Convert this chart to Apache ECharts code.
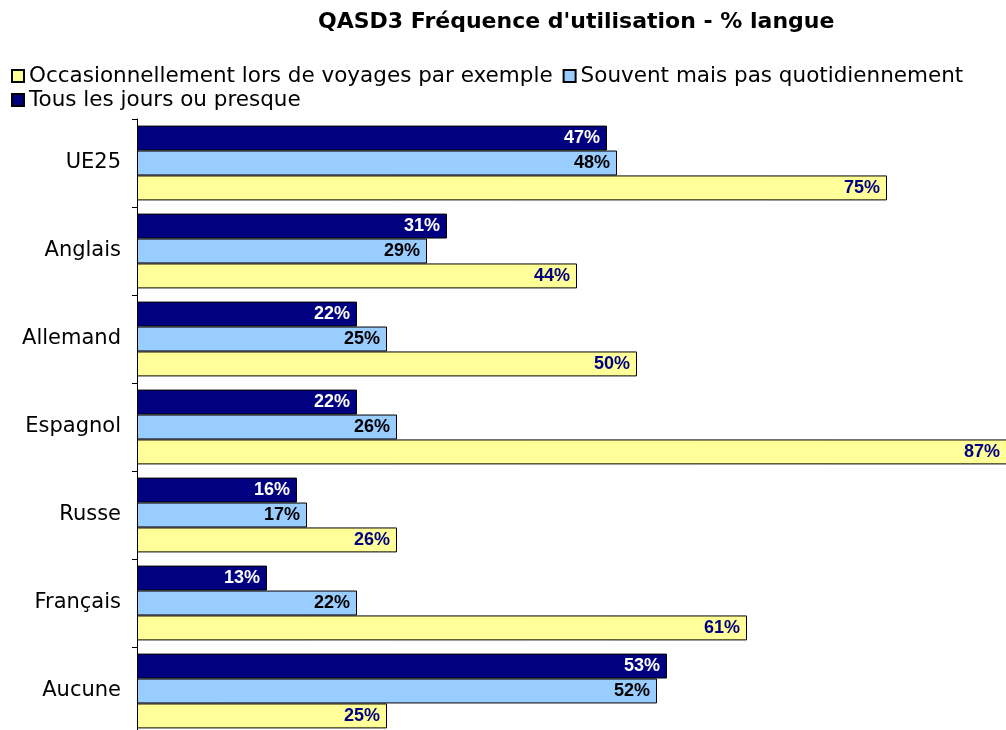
<!DOCTYPE html>
<html>
<head>
<meta charset="utf-8">
<script src="https://cdn.jsdelivr.net/npm/echarts@6/dist/echarts.min.js"></script>
<style>
  html, body { margin: 0; padding: 0; background: #fff; }
  #chart { width: 1006px; height: 730px; }
</style>
</head>
<body>
<div id="chart"></div>
<script>
// langues (de haut en bas)
const categories = ["UE25", "Anglais", "Allemand", "Espagnol", "Russe", "Français", "Aucune"];
// valeurs en %
const occasionnel = [75, 44, 50, 87, 26, 61, 25];
const souvent = [48, 29, 25, 26, 17, 22, 52];
const quotidien = [47, 31, 22, 22, 16, 13, 53];

const nomOcc = "Occasionnellement lors de voyages par exemple";
const nomSouvent = "Souvent mais pas quotidiennement";
const nomTous = "Tous les jours ou presque";

const chart = echarts.init(document.getElementById("chart"));

const labelStyle = (color) => ({
  show: true,
  position: "insideRight",
  distance: 7,
  formatter: "{c}%",
  color: color,
  fontFamily: "Liberation Sans, Arial, sans-serif",
  fontWeight: "bold",
  fontSize: 18,
});

const barBase = {
  type: "bar",
  barGap: "0%",
  barCategoryGap: "15%",
  clip: false,
};

// légende sur deux lignes
const legendBase = {
  left: 6,
  itemWidth: 12,
  itemHeight: 12,
  itemGap: 10,
  icon: "rect",
  textStyle: {
    fontFamily: "DejaVu Sans, Verdana, sans-serif",
    fontSize: 21.5,
    color: "#000",
  },
};

chart.setOption({
  animation: false,
  backgroundColor: "#fff",
  title: {
    text: "QASD3 Fréquence d'utilisation - % langue",
    left: 313,
    top: 6,
    textStyle: {
      fontFamily: "DejaVu Sans, Verdana, sans-serif",
      fontWeight: "bold",
      fontSize: 22,
      color: "#000",
    },
  },
  legend: [
    Object.assign({}, legendBase, { top: 60, data: [nomOcc, nomSouvent] }),
    Object.assign({}, legendBase, { top: 84, data: [nomTous] }),
  ],
  grid: {
    left: 137,
    top: 119,
    width: 869,
    height: 616,
    containLabel: false,
    outerBoundsMode: "none",
  },
  xAxis: {
    type: "value",
    min: 0,
    max: 86.9,
    show: false,
  },
  yAxis: {
    type: "category",
    data: categories,
    inverse: true,
    axisLine: { lineStyle: { color: "#000", width: 1 } },
    axisTick: { show: true, length: 5, lineStyle: { color: "#000" } },
    axisLabel: {
      fontFamily: "DejaVu Sans, Verdana, sans-serif",
      fontSize: 21,
      color: "#000",
      margin: 16,
    },
  },
  series: [
    Object.assign({}, barBase, {
      name: nomTous,
      data: quotidien,
      itemStyle: { color: "#000080", borderColor: "#000", borderWidth: 1 },
      label: labelStyle("#fff"),
    }),
    Object.assign({}, barBase, {
      name: nomSouvent,
      data: souvent,
      itemStyle: { color: "#99CCFF", borderColor: "#000", borderWidth: 1 },
      label: labelStyle("#000"),
    }),
    Object.assign({}, barBase, {
      name: nomOcc,
      data: occasionnel,
      itemStyle: { color: "#FFFF99", borderColor: "#000", borderWidth: 1 },
      label: labelStyle("#000080"),
    }),
  ],
});
</script>
</body>
</html>
